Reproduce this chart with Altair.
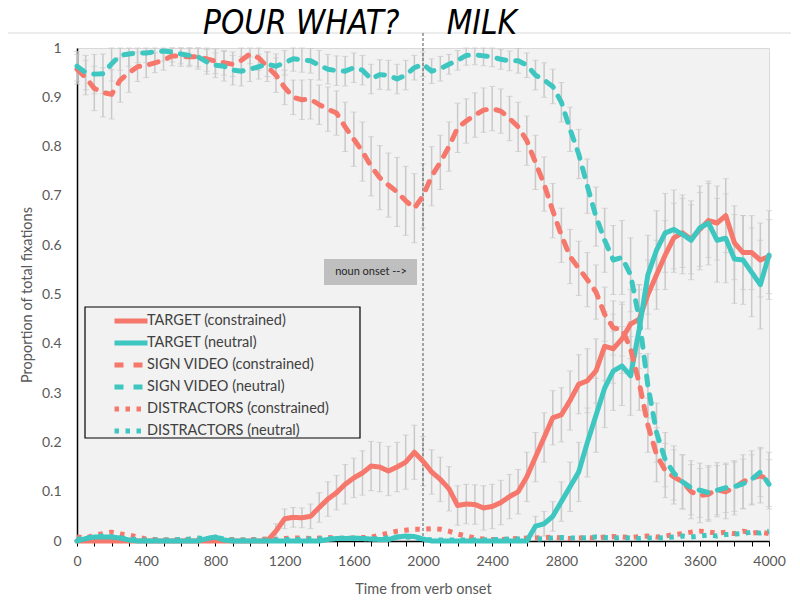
import altair as alt
import pandas as pd

# ---------------- data ----------------
TIME = list(range(0, 4001, 50))

target_constrained = [
    0, 0, 0, 0, 0, 0, 0, 0, 0, 0,            # 0-450
    0, 0, 0, 0, 0, 0, 0, 0, 0, 0,            # 500-950
    0, 0, 0, 0.02, 0.045, 0.048, 0.047, 0.05, 0.068, 0.085,   # 1000-1450
    0.098, 0.115, 0.128, 0.138, 0.152, 0.15, 0.142, 0.15, 0.16, 0.18,  # 1500-1950
    0.162, 0.14, 0.125, 0.106, 0.072, 0.075, 0.074, 0.067, 0.07, 0.078,  # 2000-2450
    0.09, 0.1, 0.13, 0.17, 0.21, 0.25, 0.256, 0.285, 0.318, 0.325,  # 2500-2950
    0.345, 0.395, 0.39, 0.41, 0.44, 0.45, 0.5, 0.54, 0.58, 0.615,  # 3000-3450
    0.625, 0.612, 0.632, 0.65, 0.645, 0.66, 0.605, 0.585, 0.585, 0.57,  # 3500-3950
    0.577]
target_neutral = [
    0, 0.005, 0.008, 0.008, 0.008, 0.006, 0.002, 0, 0, 0,
    0, 0, 0, 0, 0, 0.005, 0.008, 0.002, 0, 0,
    0, 0, 0, 0, 0, 0, 0, 0, 0, 0.003,
    0.005, 0.005, 0.006, 0.005, 0.004, 0.003, 0.003, 0.008, 0.01, 0.009,
    0.004, 0, 0, 0, 0, 0, 0, 0, 0, 0,
    0, 0, 0, 0.03, 0.035, 0.05, 0.08, 0.11, 0.14, 0.2,
    0.255, 0.31, 0.345, 0.355, 0.335, 0.43, 0.54, 0.59, 0.625, 0.632,
    0.622, 0.61, 0.635, 0.645, 0.61, 0.614, 0.572, 0.57, 0.545, 0.52,
    0.58]
sign_constrained = [
    0.957, 0.94, 0.918, 0.91, 0.906, 0.935, 0.95, 0.962, 0.965, 0.97,
    0.975, 0.984, 0.983, 0.982, 0.982, 0.978, 0.973, 0.97, 0.967, 0.975,
    0.988, 0.98, 0.962, 0.945, 0.92, 0.9, 0.895, 0.896, 0.885, 0.876,
    0.868, 0.84, 0.815, 0.79, 0.76, 0.737, 0.722, 0.708, 0.69, 0.675,
    0.7, 0.74, 0.768, 0.8, 0.838, 0.852, 0.864, 0.874, 0.877, 0.872,
    0.857, 0.84, 0.812, 0.768, 0.724, 0.67, 0.62, 0.577, 0.553, 0.53,
    0.505, 0.46, 0.432, 0.43, 0.39, 0.32, 0.235, 0.175, 0.143, 0.13,
    0.12, 0.1, 0.092, 0.095, 0.104, 0.1, 0.108, 0.12, 0.128, 0.132,
    0.125]
sign_neutral = [
    0.963, 0.95, 0.947, 0.948, 0.968, 0.985, 0.988, 0.99, 0.99, 0.992,
    0.994, 0.992, 0.988, 0.985, 0.982, 0.972, 0.965, 0.963, 0.955, 0.953,
    0.957, 0.962, 0.967, 0.963, 0.97, 0.978, 0.976, 0.974, 0.965, 0.957,
    0.954, 0.953, 0.96, 0.955, 0.937, 0.946, 0.945, 0.937, 0.945, 0.96,
    0.967, 0.953, 0.958, 0.967, 0.975, 0.985, 0.986, 0.984, 0.982, 0.977,
    0.974, 0.974, 0.965, 0.945, 0.935, 0.922, 0.89, 0.835, 0.785, 0.72,
    0.658, 0.61, 0.57, 0.575, 0.54, 0.45, 0.315, 0.22, 0.165, 0.138,
    0.12, 0.108, 0.103, 0.098, 0.103, 0.108, 0.11, 0.116, 0.125, 0.14,
    0.115]
distractors_constrained = [
    0.008, 0.006, 0.012, 0.015, 0.018, 0.014, 0.012, 0.008, 0.004, 0.003,
    0.002, 0.003, 0.002, 0.003, 0.002, 0.002, 0.004, 0.002, 0.003, 0.002,
    0.003, 0.003, 0.004, 0.003, 0.005, 0.006, 0.006, 0.005, 0.006, 0.007,
    0.006, 0.005, 0.006, 0.007, 0.008, 0.012, 0.016, 0.02, 0.022, 0.024,
    0.024, 0.025, 0.024, 0.02, 0.014, 0.01, 0.006, 0.004, 0.003, 0.003,
    0.004, 0.005, 0.006, 0.006, 0.007, 0.008, 0.006, 0.005, 0.006, 0.007,
    0.006, 0.008, 0.009, 0.008, 0.007, 0.009, 0.01, 0.008, 0.01, 0.013,
    0.015, 0.018, 0.02, 0.018, 0.016, 0.018, 0.015, 0.02, 0.016, 0.018,
    0.015]
distractors_neutral = [
    0.003, 0.006, 0.008, 0.01, 0.008, 0.006, 0.004, 0.003, 0.002, 0.002,
    0.002, 0.002, 0.003, 0.004, 0.006, 0.004, 0.008, 0.004, 0.002, 0.002,
    0.002, 0.002, 0.002, 0.002, 0.003, 0.003, 0.003, 0.004, 0.004, 0.005,
    0.005, 0.006, 0.005, 0.005, 0.004, 0.005, 0.006, 0.008, 0.008, 0.007,
    0.004, 0.002, 0.002, 0.002, 0.002, 0.002, 0.002, 0.002, 0.003, 0.003,
    0.004, 0.004, 0.005, 0.004, 0.005, 0.006, 0.007, 0.006, 0.006, 0.007,
    0.008, 0.007, 0.006, 0.007, 0.006, 0.005, 0.006, 0.006, 0.007, 0.008,
    0.01, 0.008, 0.01, 0.012, 0.01, 0.013, 0.014, 0.015, 0.018, 0.016,
    0.02]

# standard errors (error bars)
se_target_constrained = [
    0, 0, 0, 0, 0, 0, 0, 0, 0, 0,
    0, 0, 0, 0, 0, 0, 0, 0, 0, 0,
    0, 0, 0, 0.015, 0.02, 0.02, 0.02, 0.025, 0.03, 0.035,
    0.035, 0.04, 0.04, 0.045, 0.05, 0.05, 0.05, 0.05, 0.055, 0.055,
    0.05, 0.045, 0.045, 0.045, 0.04, 0.04, 0.04, 0.045, 0.045, 0.045,
    0.045, 0.045, 0.05, 0.05, 0.05, 0.055, 0.055, 0.06, 0.06, 0.065,
    0.065, 0.07, 0.07, 0.07, 0.07, 0.07, 0.07, 0.07, 0.07, 0.07,
    0.07, 0.07, 0.075, 0.075, 0.075, 0.075, 0.075, 0.075, 0.075, 0.075,
    0.075]
se_target_neutral = [
    0, 0, 0, 0, 0, 0, 0, 0, 0, 0,
    0, 0, 0, 0, 0, 0, 0, 0, 0, 0,
    0, 0, 0, 0, 0, 0, 0, 0, 0, 0,
    0, 0, 0, 0, 0, 0, 0, 0, 0, 0,
    0, 0, 0, 0, 0, 0, 0, 0, 0, 0,
    0, 0, 0, 0.02, 0.025, 0.03, 0.04, 0.05, 0.06, 0.07,
    0.075, 0.08, 0.08, 0.08, 0.08, 0.08, 0.08, 0.08, 0.08, 0.08,
    0.08, 0.08, 0.085, 0.085, 0.085, 0.09, 0.09, 0.09, 0.09, 0.09,
    0.09]
se_sign_constrained = [
    0.03, 0.035, 0.045, 0.05, 0.05, 0.045, 0.04, 0.03, 0.025, 0.02,
    0.02, 0.02, 0.02, 0.02, 0.02, 0.025, 0.025, 0.025, 0.025, 0.025,
    0.02, 0.025, 0.03, 0.035, 0.035, 0.035, 0.04, 0.04, 0.04, 0.045,
    0.045, 0.05, 0.055, 0.06, 0.06, 0.065, 0.065, 0.07, 0.07, 0.07,
    0.065, 0.06, 0.055, 0.05, 0.05, 0.045, 0.045, 0.045, 0.045, 0.045,
    0.045, 0.05, 0.05, 0.055, 0.055, 0.055, 0.055, 0.055, 0.055, 0.055,
    0.055, 0.055, 0.055, 0.055, 0.055, 0.055, 0.055, 0.055, 0.055, 0.055,
    0.055, 0.055, 0.055, 0.055, 0.055, 0.055, 0.055, 0.055, 0.055, 0.055,
    0.055]
se_sign_neutral = [
    0.03, 0.035, 0.04, 0.04, 0.035, 0.03, 0.025, 0.02, 0.02, 0.02,
    0.02, 0.02, 0.02, 0.02, 0.025, 0.025, 0.025, 0.03, 0.03, 0.03,
    0.025, 0.025, 0.025, 0.025, 0.025, 0.025, 0.025, 0.025, 0.03, 0.03,
    0.03, 0.03, 0.03, 0.03, 0.03, 0.03, 0.03, 0.03, 0.03, 0.025,
    0.025, 0.025, 0.025, 0.02, 0.02, 0.02, 0.02, 0.02, 0.02, 0.02,
    0.02, 0.025, 0.025, 0.03, 0.035, 0.035, 0.04, 0.045, 0.05, 0.055,
    0.06, 0.065, 0.07, 0.075, 0.075, 0.07, 0.065, 0.06, 0.055, 0.055,
    0.055, 0.055, 0.055, 0.055, 0.05, 0.05, 0.05, 0.05, 0.05, 0.05,
    0.05]

SERIES = ["TARGET (constrained)", "TARGET (neutral)",
          "SIGN VIDEO (constrained)", "SIGN VIDEO (neutral)",
          "DISTRACTORS (constrained)", "DISTRACTORS (neutral)"]
VALUES = [target_constrained, target_neutral, sign_constrained, sign_neutral,
          distractors_constrained, distractors_neutral]
ERRORS = [se_target_constrained, se_target_neutral, se_sign_constrained,
          se_sign_neutral, None, None]
DOTTED_SERIES = SERIES[4:]

TITLE = "POUR WHAT?\u00a0\u00a0\u00a0\u00a0\u00a0MILK"
NOUN_ONSET = 2000
NOUN_LABEL = "noun onset -->"
X_TICKS = list(range(0, 4001, 100))
Y_TICKS = [i / 10 for i in range(11)]

# ---------------- styling ----------------
RED = "#F6776B"
CYAN = "#3EC6C1"
COLORS = [RED, CYAN, RED, CYAN, RED, CYAN]
DASHES = [[1, 0], [1, 0], [9, 10], [9, 10], [4.5, 6.5], [4.5, 6.5]]
FONT = "Lato"
GREY_TXT = "#595959"
W, H = 692, 493

rows = []
for name, vals, errs in zip(SERIES, VALUES, ERRORS):
    for i, t in enumerate(TIME):
        se = errs[i] if errs is not None else 0
        rows.append({"t": t, "p": vals[i], "series": name, "se": se,
                     "lo": max(0, vals[i] - se), "hi": min(1, vals[i] + se)})
df = pd.DataFrame(rows)
err_df = df[df["se"] > 0]
main_df = df[~df["series"].isin(DOTTED_SERIES)]
dot_df = df[df["series"].isin(DOTTED_SERIES)]

x_scale = alt.Scale(domain=[0, 4000], nice=False, zero=False)
y_scale = alt.Scale(domain=[0, 1], nice=False)
x_axis = alt.Axis(values=X_TICKS, labelExpr="datum.value % 400 === 0 ? datum.label : ''",
                  format="d", grid=False, tickSize=5, tickColor="#000", domainColor="#000",
                  domainWidth=1.5, labelOverlap=False, labelFlush=False, labelPadding=8,
                  labelFont=FONT, labelFontSize=14, labelColor=GREY_TXT,
                  title="Time from verb onset", titleFont=FONT, titleFontSize=14.5,
                  titleFontWeight="normal", titleColor=GREY_TXT, titlePadding=14)
y_axis = alt.Axis(values=Y_TICKS, format=".1~f", grid=False, ticks=False, domainColor="#000",
                  domainWidth=1.5, labelOverlap=False, labelFlush=False, labelPadding=16,
                  labelFont=FONT, labelFontSize=14, labelColor=GREY_TXT,
                  title="Proportion of total fixations", titleFont=FONT, titleFontSize=14.5,
                  titleFontWeight="normal", titleColor=GREY_TXT, titlePadding=7)


def X(field):
    return alt.X(field, type="quantitative", scale=x_scale, axis=x_axis)


def Y(field):
    return alt.Y(field, type="quantitative", scale=y_scale, axis=y_axis)


legend = alt.Legend(title=None, orient="none", legendX=8, legendY=263,
                    fillColor="transparent", padding=2,
                    symbolType="M-3,0H3", symbolSize=121, symbolStrokeWidth=5,
                    symbolFillColor="transparent",
                    symbolOffset=36, labelOffset=8, rowPadding=2,
                    labelFont=FONT, labelFontSize=14.5, labelColor="#404040", labelLimit=400)
color_enc = alt.Color("series:N", scale=alt.Scale(domain=SERIES, range=COLORS), legend=legend)
dash_enc = alt.StrokeDash("series:N", scale=alt.Scale(domain=SERIES, range=DASHES),
                          legend=legend)

frame_df = pd.DataFrame({"k": [0]})
top_line = alt.Chart(frame_df).mark_rule(color="#d9d9d9", strokeWidth=1).encode(
    x=alt.value(-69), x2=alt.value(W + 22), y=alt.value(-15))
legend_frame = alt.Chart(frame_df).mark_rect(fill="#f2f2f2", stroke="#000",
                                             strokeWidth=1.2).encode(
    x=alt.value(8), x2=alt.value(283), y=alt.value(259), y2=alt.value(390))

bars = alt.Chart(err_df).mark_rule(color="#c9c9c9", strokeWidth=1.5).encode(
    x=X("t"), y=Y("lo"), y2="hi")
caps_lo = alt.Chart(err_df).mark_tick(color="#c9c9c9", orient="horizontal", size=6,
                                      thickness=1).encode(x=X("t"), y=Y("lo"))
caps_hi = alt.Chart(err_df).mark_tick(color="#c9c9c9", orient="horizontal", size=6,
                                      thickness=1).encode(x=X("t"), y=Y("hi"))

onset_df = pd.DataFrame({"t": [NOUN_ONSET], "label": [NOUN_LABEL]})
onset_rule = alt.Chart(onset_df).mark_rule(color="#555555", strokeDash=[3, 2],
                                           strokeWidth=1).encode(
    x=X("t"), y=alt.value(-15), y2=alt.value(H))

dot_lines = alt.Chart(dot_df).mark_line(strokeWidth=5, strokeCap="butt",
                                        strokeJoin="round").encode(
    x=X("t"), y=Y("p"), color=color_enc, strokeDash=dash_enc)
lines = alt.Chart(main_df).mark_line(strokeWidth=5, strokeCap="round",
                                     strokeJoin="round").encode(
    x=X("t"), y=Y("p"), color=color_enc, strokeDash=dash_enc)

note_box = alt.Chart(onset_df).mark_rect(color="#bfbfbf", xOffset=-99,
                                         x2Offset=-6).encode(
    x=X("t"), x2="t", y=alt.value(211), y2=alt.value(237))
note_text = alt.Chart(onset_df).mark_text(font=FONT, fontSize=11, color="#262626",
                                          dx=-52).encode(
    x=X("t"), y=alt.value(224), text="label:N")

chart = alt.layer(top_line, bars, caps_lo, caps_hi, onset_rule, legend_frame, dot_lines,
                  lines, note_box, note_text).properties(
    width=W, height=H,
    title=alt.TitleParams(TITLE,
                          font="Liberation Sans Narrow, DejaVu Sans Condensed, sans-serif",
                          fontSize=33, fontStyle="italic", fontWeight="normal",
                          color="#000", anchor="middle", frame="group", dx=-63,
                          offset=-8),
    autosize=alt.AutoSizeParams(type="none"),
    padding={"left": 69, "top": 40, "right": 23, "bottom": 55},
).configure_view(fill="#f2f2f2", stroke="#d9d9d9")

chart.save("out.html", embed_options={"renderer": "svg", "actions": False})
